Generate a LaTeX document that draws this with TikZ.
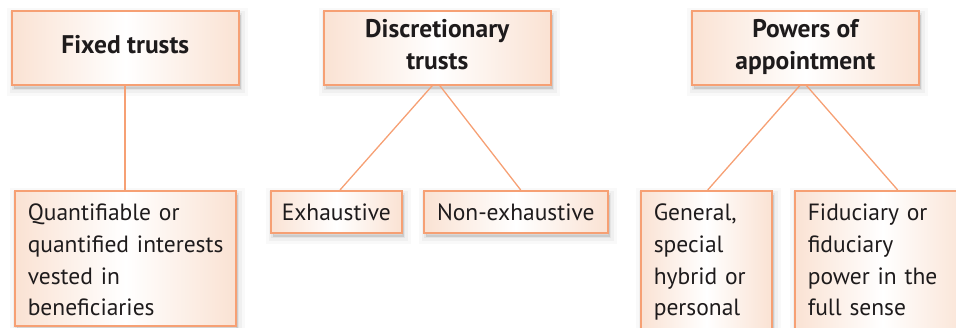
\documentclass[tikz,border=0pt]{standalone}
\usepackage{fontspec}
\setmainfont{PT Sans}
\usetikzlibrary{shadows,calc}
\definecolor{peach}{RGB}{250,226,211}
\definecolor{edgeor}{RGB}{246,160,116}
\definecolor{ink}{RGB}{30,27,28}
\newcommand\myTop{\rule{0pt}{17pt}}
\newcommand\myBot{\rule[-6.5pt]{0pt}{6.5pt}}
\newcommand\parTop{\rule{0pt}{27pt}}
\newcommand\parBot{\rule[-7pt]{0pt}{7pt}}
\newcommand\parBotLong{\rule[-25pt]{0pt}{25pt}}
\tikzset{
  softshadow/.style={
    general shadow={shadow xshift=2pt,shadow yshift=-4pt,fill=black,draw=black,line width=14pt,opacity=0.025},
    general shadow={shadow xshift=2pt,shadow yshift=-4pt,fill=black,draw=black,line width=8pt,opacity=0.035},
    general shadow={shadow xshift=2pt,shadow yshift=-4pt,fill=black,draw=black,line width=3pt,opacity=0.05}},
  box/.style={draw=edgeor, line width=1.6pt, left color=peach, right color=peach, middle color=white,
    softshadow, text=ink, inner sep=0pt, anchor=north west, font=\fontsize{23.5}{31.7}\selectfont},
  head/.style={box, minimum width=227pt, minimum height=74pt, align=center,
    font=\bfseries\fontsize{25.5}{32}\selectfont},
  leaf/.style={box, align=center, minimum height=42pt, text height=17pt, text depth=0pt},
  para/.style={box, align=left, inner xsep=13pt, inner ysep=3pt},
  link/.style={draw=edgeor, line width=1.3pt}
}
\begin{document}
\begin{tikzpicture}[x=1pt,y=-1pt]
\useasboundingbox (0,0) rectangle (956,328);
\clip (0,0) rectangle (956,328);
\node[head] (fixed) at (11,10) {\myTop Fixed trusts\myBot};
\node[head] (disc) at (323,10) {\myTop Discretionary\\trusts\myBot};
\node[head] (powers) at (691,10) {\myTop Powers of\\appointment\myBot};
\node[para, text width=195pt] (quant) at (14,190)
  {\parTop\mbox{Quantifiable or}\\\mbox{quantified interests}\\\mbox{vested in}\\\mbox{beneficiaries}\parBot};
\node[leaf, minimum width=131pt] (exh) at (270,190) {Exhaustive};
\node[leaf, minimum width=184pt] (nonexh) at (423,190) {Non-exhaustive};
\node[para, text width=105pt] (general) at (640,190)
  {\parTop\mbox{General,}\\\mbox{special}\\\mbox{hybrid or}\\\mbox{personal}\parBotLong};
\node[para, text width=150pt] (fiduc) at (794,190)
  {\parTop\mbox{Fiduciary or}\\\mbox{fiduciary}\\\mbox{power in the}\\\mbox{full sense}\parBotLong};
\draw[link, line width=1.8pt] (fixed.south) -- (quant.north);
\draw[link] ($(disc.south)+(-5,0)$) -- ($(exh.north west)+(70,0)$);
\draw[link] ($(disc.south)+(2.5,0)$) -- ($(nonexh.north west)+(97.7,0)$);
\draw[link] ($(powers.south)+(-5.5,0)$) -- ($(general.north west)+(67.7,0)$);
\draw[link] ($(powers.south)+(1.2,0)$) -- ($(fiduc.north west)+(103.7,0)$);
\end{tikzpicture}
\end{document}
